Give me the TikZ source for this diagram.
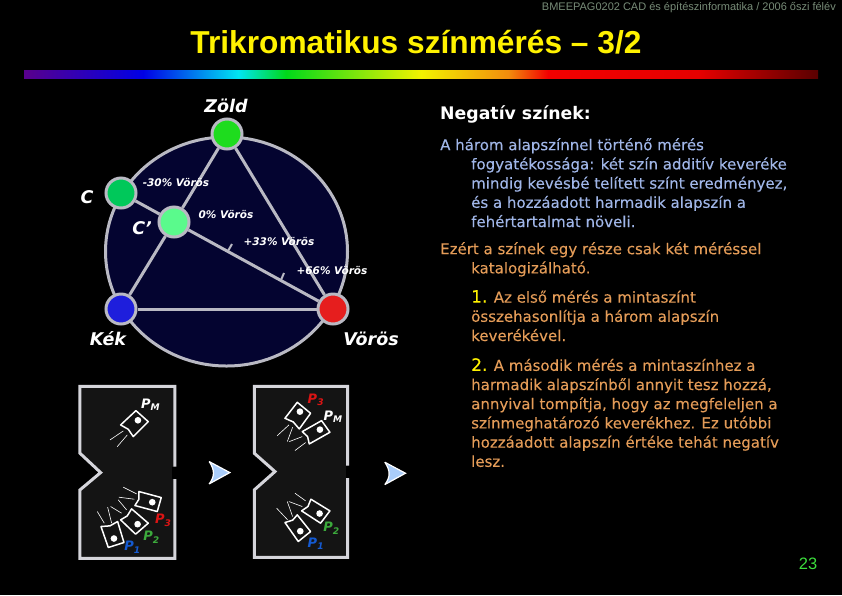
\documentclass[tikz,border=0pt]{standalone}
\usepackage{fontspec}
\setmainfont{DejaVu Sans}
\newfontfamily\arialfont{Liberation Sans}
\newfontfamily\szovegfont{DejaVu Sans}[FakeBold=0.15]
\usetikzlibrary{positioning}
\definecolor{gyuru}{RGB}{185,185,195}
\definecolor{ejkek}{RGB}{4,4,48}
\definecolor{panel}{RGB}{20,20,20}
\definecolor{kektext}{RGB}{160,182,232}
\definecolor{narancs}{RGB}{228,156,88}
\definecolor{fejlec}{RGB}{120,140,120}
\definecolor{szem}{RGB}{170,205,250}
\pgfdeclarehorizontalshading{szivarvany}{100bp}{
rgb(0bp)=(0.35,0,0.55); rgb(25bp)=(0.35,0,0.55); rgb(32.5bp)=(0,0,0.9);
rgb(38.5bp)=(0,0.9,0.95); rgb(41.5bp)=(0,0.85,0.1); rgb(50bp)=(0.95,0.95,0);
rgb(55.5bp)=(0.95,0.55,0.05); rgb(58bp)=(0.95,0,0); rgb(67.5bp)=(0.9,0,0);
rgb(75bp)=(0.35,0,0); rgb(100bp)=(0.35,0,0)}
\tikzset{
szin/.style={draw=gyuru,circle,line width=3pt,minimum size=30pt,inner sep=0pt},
vonal/.style={draw=gyuru,line width=3pt},
nev/.style={text=white,font=\bfseries\itshape\fontsize{17.5}{18}\selectfont,inner sep=0pt},
szazalek/.style={text=white,font=\bfseries\itshape\fontsize{10.5}{11}\selectfont,inner sep=0pt},
bekezdes/.style={anchor=north west,align=left,inner sep=0pt,font=\szovegfont\fontsize{15}{19.2}\selectfont},
fal/.style={draw=gyuru!60!white,fill=panel,line width=3pt},
lampa/.style={draw=white,fill=panel,line width=1.5pt,line join=round},
izzo/.style={fill=white},
sugar/.style={draw=white,line width=0.6pt},
p/.style={font=\bfseries\itshape\fontsize{13}{13}\selectfont,inner sep=0pt}
}
\newcommand{\behuz}{\hspace*{31pt}}
\begin{document}
\begin{tikzpicture}[x=1pt,y=-1pt]
\useasboundingbox[fill=black] (0,0) rectangle (842,595);

\node[text=fejlec,anchor=east,inner sep=0pt,font=\arialfont\fontsize{11}{11}\selectfont](fejlec) at (836,8) {BMEEPAG0202 CAD és építészinformatika / 2006 őszi félév};
\node[text=yellow,inner sep=0pt,font=\arialfont\bfseries\fontsize{31.7}{32}\selectfont](cim) at (416,42) {Trikromatikus színmérés – 3/2};
\shade[shading=szivarvany] (24,70.5) rectangle (818,78);

% a szinharomszog
\draw[vonal,fill=ejkek] (226.5,251.5) ellipse (121 and 114.5);
\node[szin,fill={rgb,255:red,30;green,220;blue,30}](zold) at (227,134) {};
\node[szin,fill={rgb,255:red,0;green,200;blue,90}](c) at (121,193) {};
\node[szin,fill={rgb,255:red,90;green,250;blue,140}](cv) at (174,222) {};
\node[szin,fill={rgb,255:red,30;green,30;blue,220}](kek) at (121,309) {};
\node[szin,fill={rgb,255:red,230;green,30;blue,30}](voros) at (333,309) {};
\draw[vonal] (zold) -- (voros);
\draw[vonal] (zold) -- (cv);
\draw[vonal] (cv) -- (kek);
\draw[vonal] (kek) -- (voros);
\draw[vonal] (c) -- (cv);
\draw[vonal] (cv) -- (voros);

\coordinate (t1) at (228,251);
\coordinate (t1v) at (232,244);
\coordinate (t2) at (281,280);
\coordinate (t2v) at (284,273);
\draw[draw=gyuru,line width=2pt] (t1) -- (t1v);
\draw[draw=gyuru,line width=2pt] (t2) -- (t2v);

\node[nev](zoldn) at (226,106) {Zöld};
\node[nev](cn) at (87,197) {C};
\node[nev](cvn) at (142,228) {C'};
\node[nev](kekn) at (108,339) {Kék};
\node[nev](vorosn) at (371,339) {Vörös};
\node[szazalek](sz1) at (176,183) {-30\% Vörös};
\node[szazalek](sz2) at (226,215) {0\% Vörös};
\node[szazalek](sz3) at (279,242) {+33\% Vörös};
\node[szazalek](sz4) at (332,271) {+66\% Vörös};

% szoveg jobb oldalt
\node[anchor=west,inner sep=0pt,text=white,font=\bfseries\fontsize{17.3}{18}\selectfont](neg) at (440,114) {Negatív színek:};
\node[bekezdes,text=kektext](b1) at (440,138) {A három alapszínnel történő mérés\\
\behuz fogyatékossága: két szín additív keveréke\\
\behuz mindig kevésbé telített színt eredményez,\\
\behuz és a hozzáadott harmadik alapszín a\\
\behuz fehértartalmat növeli.};
\node[bekezdes,text=narancs](b2) at (440,242) {Ezért a színek egy része csak két méréssel\\
\behuz katalogizálható.};
\node[bekezdes,text=narancs](b3) at (471,290) {{\color{yellow}\fontsize{17}{19.2}\selectfont 1.} Az első mérés a mintaszínt\\
összehasonlítja a három alapszín\\
keverékével.};
\node[bekezdes,text=narancs](b4) at (471,358) {{\color{yellow}\fontsize{17}{19.2}\selectfont 2.} A második mérés a mintaszínhez a\\
harmadik alapszínből annyit tesz hozzá,\\
annyival tompítja, hogy az megfeleljen a\\
színmeghatározó keverékhez. Ez utóbbi\\
hozzáadott alapszín értéke tehát negatív\\
lesz.};
\node[text={rgb,255:red,60;green,220;blue,60},inner sep=0pt,font=\arialfont\fontsize{16.5}{17}\selectfont](oldal) at (808,564) {23};

% bal panel
\begin{scope}[shift={(70,370)},x=0.333pt,y=-0.333pt]
\draw[fal] (315,290) -- (315,49) -- (30,49) -- (30,250) -- (92,308) -- (30,360) -- (30,566) -- (315,566) -- (315,327);
\fill[black] (306,290) rectangle (322,327);
\draw[lampa] (198,122) -- (235,155) -- (190,200) -- (175,178) -- (152,165) -- cycle;
\fill[izzo] (204,151) circle (10);
\draw[sugar] (160,183) -- (120,210);
\draw[sugar] (172,195) -- (142,230);
\draw[lampa] (207,365) -- (274,383) -- (262,425) -- (195,407) -- (207,388) -- cycle;
\fill[izzo] (247,397) circle (10);
\draw[sugar] (200,372) -- (160,352);
\draw[sugar] (193,388) -- (147,382);
\draw[sugar] (170,420) -- (145,390);
\draw[lampa] (185,417) -- (235,460) -- (197,493) -- (152,450) -- (172,438) -- cycle;
\fill[izzo] (203,463) circle (10);
\draw[sugar] (155,430) -- (122,410);
\draw[sugar] (125,460) -- (113,412);
\draw[lampa] (93,470) -- (120,468) -- (143,455) -- (162,518) -- (115,533) -- cycle;
\fill[izzo] (132,506) circle (10);
\draw[sugar] (103,460) -- (82,425);
\node[p,text=white](pm1) at (242,105) {P\textsubscript{M}};
\node[p,text={rgb,255:red,220;green,20;blue,20}](p31) at (280,452) {P\textsubscript{3}};
\node[p,text={rgb,255:red,60;green,170;blue,60}](p21) at (245,502) {P\textsubscript{2}};
\node[p,text={rgb,255:red,20;green,90;blue,210}](p11) at (188,532) {P\textsubscript{1}};
\fill[szem] (418,275) -- (480,308) -- (418,342) .. controls (435,320) and (435,300) .. (418,275);
\draw[draw=white,line width=1.2pt] (418,275) -- (480,308) -- (418,342);
\draw[draw=white,line width=1.2pt] (418,275) .. controls (435,300) and (435,320) .. (418,342);
\end{scope}

% jobb panel
\begin{scope}[shift={(240,370)},x=0.333pt,y=-0.333pt]
\draw[fal] (323,287) -- (323,49) -- (43,49) -- (43,250) -- (105,305) -- (43,360) -- (43,563) -- (323,563) -- (323,323);
\fill[black] (317,287) rectangle (330,323);
\draw[lampa] (172,97) -- (212,130) -- (178,177) -- (160,156) -- (135,145) -- cycle;
\fill[izzo] (180,125) circle (10);
\draw[sugar] (147,165) -- (112,197);
\draw[sugar] (158,172) -- (142,215);
\draw[lampa] (245,152) -- (270,187) -- (208,222) -- (203,200) -- (187,185) -- cycle;
\fill[izzo] (240,179) circle (10);
\draw[sugar] (187,200) -- (148,215);
\draw[sugar] (197,218) -- (165,242);
\draw[lampa] (213,388) -- (270,423) -- (242,460) -- (185,423) -- (204,410) -- cycle;
\fill[izzo] (239,431) circle (10);
\draw[sugar] (197,393) -- (165,370);
\draw[sugar] (187,410) -- (147,395);
\draw[lampa] (172,435) -- (212,485) -- (175,515) -- (135,458) -- (158,451) -- cycle;
\fill[izzo] (181,484) circle (10);
\draw[sugar] (158,440) -- (142,395);
\draw[sugar] (143,450) -- (110,415);
\node[p,text={rgb,255:red,220;green,20;blue,20}](p32) at (228,90) {P\textsubscript{3}};
\node[p,text=white](pm2) at (280,140) {P\textsubscript{M}};
\node[p,text={rgb,255:red,60;green,170;blue,60}](p22) at (275,475) {P\textsubscript{2}};
\node[p,text={rgb,255:red,20;green,90;blue,210}](p12) at (228,522) {P\textsubscript{1}};
\fill[szem] (435,277) -- (497,310) -- (435,344) .. controls (452,322) and (452,302) .. (435,277);
\draw[draw=white,line width=1.2pt] (435,277) -- (497,310) -- (435,344);
\draw[draw=white,line width=1.2pt] (435,277) .. controls (452,302) and (452,322) .. (435,344);
\end{scope}

\end{tikzpicture}
\end{document}
